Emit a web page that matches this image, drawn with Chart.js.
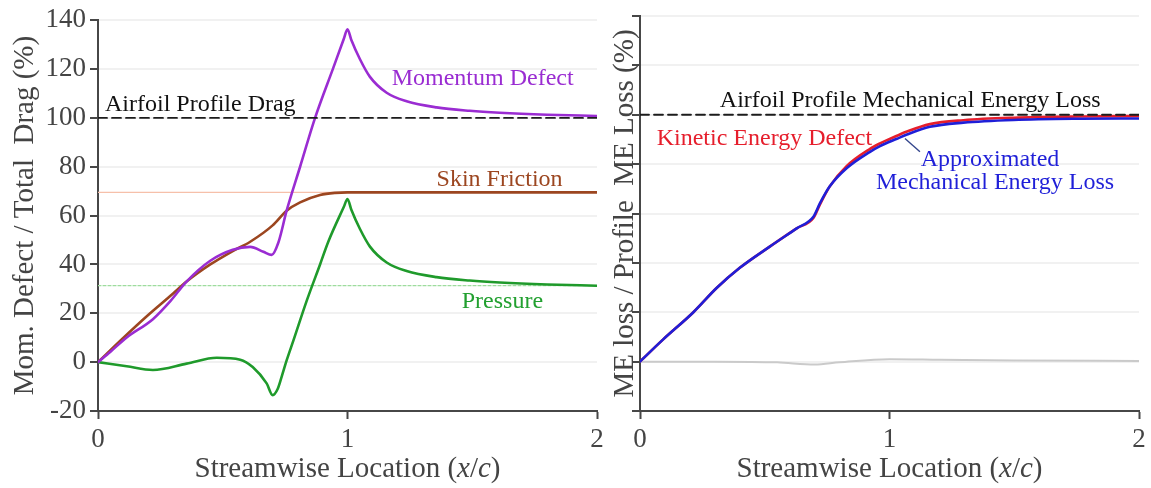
<!DOCTYPE html>
<html>
<head>
<meta charset="utf-8">
<script src="https://cdn.jsdelivr.net/npm/chart.js@4/dist/chart.umd.min.js"></script>
<style>
  html, body { margin: 0; padding: 0; background: #fff; width: 1151px; height: 488px; overflow: hidden; }
  canvas { position: absolute; top: 0; }
  #dragChart { left: 0; }
  #energyChart { left: 610px; }
</style>
</head>
<body>
<canvas id="dragChart" width="610" height="488"></canvas>
<canvas id="energyChart" width="541" height="488"></canvas>
<script>
// ---- tick values ----
const xTickValues = [0, 1, 2];
const yTickValues = [-20, 0, 20, 40, 60, 80, 100, 120, 140];

// ---- momentum budget (% of total drag) vs x/c ----
const profileDragX = [0, 2];
const profileDragY = [100, 100];

const momentumX = [0, 0.05, 0.115, 0.22, 0.29, 0.355, 0.45, 0.54, 0.61, 0.663, 0.696, 0.723, 0.756, 0.81, 0.87, 0.943, 0.985, 1.0, 1.015, 1.05, 1.09, 1.157, 1.237, 1.357, 1.49, 1.61, 1.8, 2.0];
const momentumY = [0, 4.3, 10.1, 17.6, 25, 33, 41.5, 46, 47.2, 45.2, 43.9, 49, 62, 80, 100, 120.5, 132.3, 136.3, 132, 124, 116.8, 110.3, 106.8, 104.3, 102.9, 102.1, 101.3, 100.8];

const skinX = [0, 0.1, 0.2, 0.3, 0.355, 0.45, 0.54, 0.61, 0.7, 0.756, 0.81, 0.89, 0.95, 1.0, 1.5, 2.0];
const skinY = [0, 9.8, 19.2, 28, 33, 40, 45.5, 49.3, 56, 62, 65.4, 68.4, 69.3, 69.5, 69.5, 69.5];

const pressureX = [0, 0.115, 0.22, 0.355, 0.476, 0.57, 0.62, 0.676, 0.70, 0.72, 0.736, 0.756, 0.783, 0.836, 0.89, 0.923, 0.985, 1.0, 1.015, 1.05, 1.09, 1.157, 1.237, 1.357, 1.49, 1.61, 1.8, 2.0];
const pressureY = [0, -1.7, -3.2, -0.6, 1.8, 1.0, -2, -8.7, -13.5, -11, -6, 0.7, 8.8, 25, 40, 49.3, 63.5, 66.8, 62.5, 54.5, 47.3, 40.8, 37.3, 34.8, 33.4, 32.6, 31.8, 31.3];

// ---- mechanical energy budget (% of profile ME loss) vs x/c ----
const profileMEX = [0, 2];
const profileMEY = [100, 100];

const approxMEX = [0, 0.093, 0.214, 0.307, 0.40, 0.52, 0.628, 0.695, 0.721, 0.76, 0.828, 0.922, 0.962, 1.03, 1.07, 1.162, 1.296, 1.497, 1.764, 2.0];
const approxMEY = [0, 9.0, 20.0, 29.8, 38, 46.6, 54, 58.7, 64.1, 70.9, 78.3, 85, 87.3, 90.3, 92, 95.1, 96.8, 97.9, 98.4, 98.5];

const kineticX = [0, 0.093, 0.214, 0.307, 0.40, 0.52, 0.628, 0.695, 0.721, 0.76, 0.828, 0.922, 0.962, 1.03, 1.07, 1.162, 1.296, 1.497, 1.764, 2.0];
const kineticY = [0, 9.0, 20.0, 29.8, 38, 46.6, 54, 58.2, 63.6, 70.9, 79.2, 86.2, 88.4, 91.5, 93.2, 96.2, 97.8, 98.8, 99.3, 99.5];

const diffX = [0, 0.3, 0.55, 0.70, 0.8, 1.0, 1.2, 1.5, 2.0];
const diffY = [0, 0, -0.3, -1.2, -0.3, 1.0, 0.8, 0.5, 0.3];

// ---- styling ----
const SERIF = '"Liberation Serif", "Times New Roman", serif';
const AXIS = '#474747';
const TEXT = '#444';
const PURPLE = '#9a2cd2';
const BROWN = '#9c4620';
const GREEN = '#1f9a2b';
const RED = '#e61e2c';
const BLUE = '#1f1fd8';

const pts = (xs, ys) => xs.map((x, i) => ({ x, y: ys[i] }));
const last = arr => arr[arr.length - 1];

// Text layer: axis titles (with italic x/c) and in-plot labels.
const panelText = {
  id: 'panelText',
  afterDraw(chart, args, opts) {
    const { ctx, chartArea, scales } = chart;
    const sx = scales.x, sy = scales.y;
    ctx.save();

    // x-axis title
    const parts = [['Streamwise Location (', false], ['x', true], ['/', false], ['c', true], [')', false]];
    const fnt = it => (it ? 'italic ' : '') + '29px ' + SERIF;
    let total = 0;
    parts.forEach(([t, it]) => { ctx.font = fnt(it); total += ctx.measureText(t).width; });
    let cx = (chartArea.left + chartArea.right) / 2 - total / 2;
    ctx.fillStyle = TEXT;
    ctx.textBaseline = 'alphabetic';
    ctx.textAlign = 'left';
    parts.forEach(([t, it]) => { ctx.font = fnt(it); ctx.fillText(t, cx, 477); cx += ctx.measureText(t).width; });

    // y-axis title
    ctx.save();
    ctx.translate(opts.yTitleX, (chartArea.top + chartArea.bottom) / 2);
    ctx.rotate(-Math.PI / 2);
    ctx.font = '29px ' + SERIF;
    ctx.textAlign = 'center';
    ctx.fillText(opts.yTitle, 0, 0);
    ctx.restore();

    // leader line
    if (opts.leader) {
      ctx.strokeStyle = opts.leader.color;
      ctx.lineWidth = 1.4;
      ctx.beginPath();
      ctx.moveTo(sx.getPixelForValue(opts.leader.from[0]), sy.getPixelForValue(opts.leader.from[1]));
      ctx.lineTo(sx.getPixelForValue(opts.leader.to[0]), sy.getPixelForValue(opts.leader.to[1]));
      ctx.stroke();
    }

    // in-plot labels
    ctx.font = '24px ' + SERIF;
    opts.labels.forEach(l => {
      ctx.fillStyle = l.color;
      ctx.textAlign = l.align || 'left';
      ctx.fillText(l.text, sx.getPixelForValue(l.x), sy.getPixelForValue(l.y));
    });
    ctx.restore();
  }
};

function axes(yWidth, showYLabels) {
  return {
    x: {
      type: 'linear', min: 0, max: 2,
      afterBuildTicks: s => { s.ticks = xTickValues.map(v => ({ value: v })); },
      afterFit: s => { s.height = 77; },
      grid: { drawOnChartArea: false, tickLength: 8, tickColor: AXIS, tickWidth: 2 },
      border: { color: AXIS, width: 2 },
      ticks: { font: { family: SERIF, size: 27 }, color: TEXT, padding: 5, maxRotation: 0 }
    },
    y: {
      type: 'linear', min: -20, max: 140,
      afterBuildTicks: s => { s.ticks = yTickValues.map(v => ({ value: v })); },
      afterFit: s => { s.width = yWidth; },
      grid: { color: 'rgba(0,0,0,0.055)', lineWidth: 2, tickLength: 8, tickColor: AXIS, tickWidth: 2 },
      border: { color: AXIS, width: 2 },
      ticks: { display: showYLabels, font: { family: SERIF, size: 27 }, color: TEXT, padding: 4 }
    }
  };
}

const common = {
  responsive: false,
  animation: false,
  events: [],
  elements: { point: { radius: 0 }, line: { cubicInterpolationMode: 'monotone', fill: false, borderCapStyle: 'round' } },
  plugins: { legend: { display: false }, tooltip: { enabled: false } }
};

new Chart(document.getElementById('dragChart'), {
  type: 'line',
  data: {
    datasets: [
      { label: 'Airfoil Profile Drag', data: pts(profileDragX, profileDragY), borderColor: '#1c1c1c', borderWidth: 1.8, borderDash: [9, 5] },
      { label: 'Momentum Defect', data: pts(momentumX, momentumY), borderColor: PURPLE, borderWidth: 2.6 },
      { label: 'Pressure', data: pts(pressureX, pressureY), borderColor: GREEN, borderWidth: 2.6 },
      { label: 'Skin Friction', data: pts(skinX, skinY), borderColor: BROWN, borderWidth: 2.6 },
      { label: 'Skin Friction (final)', data: pts(profileDragX, [last(skinY), last(skinY)]), borderColor: '#f6c0aa', borderWidth: 1.2 },
      { label: 'Pressure (final)', data: pts(profileDragX, [last(pressureY), last(pressureY)]), borderColor: '#9edc9e', borderWidth: 1.2, borderDash: [3, 2] }
    ]
  },
  options: {
    ...common,
    layout: { padding: { top: 16, right: 13, left: 0, bottom: 0 } },
    scales: axes(98, true),
    plugins: {
      ...common.plugins,
      panelText: {
        yTitle: 'Mom. Defect / Total  Drag (%)',
        yTitleX: 33,
        labels: [
          { text: 'Airfoil Profile Drag', x: 0.028, y: 103, color: '#111' },
          { text: 'Momentum Defect', x: 1.177, y: 113.4, color: PURPLE },
          { text: 'Skin Friction', x: 1.357, y: 72.2, color: BROWN },
          { text: 'Pressure', x: 1.458, y: 22.1, color: '#22a030' }
        ]
      }
    }
  },
  plugins: [panelText]
});

new Chart(document.getElementById('energyChart'), {
  type: 'line',
  data: {
    datasets: [
      { label: 'Airfoil Profile Mechanical Energy Loss', data: pts(profileMEX, profileMEY), borderColor: '#1c1c1c', borderWidth: 1.8, borderDash: [9, 5] },
      { label: 'Approximated Mechanical Energy Loss', data: pts(approxMEX, approxMEY), borderColor: BLUE, borderWidth: 2.6 },
      { label: 'Kinetic Energy Defect', data: pts(kineticX, kineticY), borderColor: RED, borderWidth: 2.6 },
      { label: 'Difference', data: pts(diffX, diffY), borderColor: '#cacaca', borderWidth: 2 }
    ]
  },
  options: {
    ...common,
    layout: { padding: { top: 16, right: 12, left: 0, bottom: 0 } },
    scales: axes(30, false),
    plugins: {
      ...common.plugins,
      panelText: {
        yTitle: 'ME loss / Profile  ME Loss (%)',
        yTitleX: 23,
        leader: { from: [1.062, 90.4], to: [1.122, 85], color: '#34468c' },
        labels: [
          { text: 'Airfoil Profile Mechanical Energy Loss', x: 0.32, y: 103, color: '#111' },
          { text: 'Kinetic Energy Defect', x: 0.067, y: 87.7, color: RED },
          { text: 'Approximated', x: 1.403, y: 79.4, color: BLUE, align: 'center' },
          { text: 'Mechanical Energy Loss', x: 1.423, y: 69.9, color: BLUE, align: 'center' }
        ]
      }
    }
  },
  plugins: [panelText]
});
</script>
</body>
</html>
